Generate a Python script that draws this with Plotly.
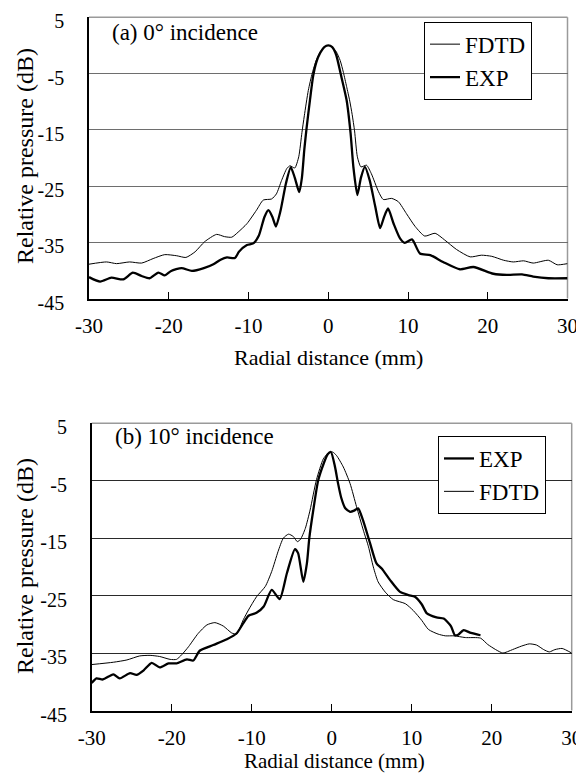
import plotly.graph_objects as go

# ---------------- data ----------------
# (a) 0 deg incidence
fdtd_a_x = [-30, -27.8, -26.55, -24.9, -23.4, -21.96, -20.5, -19.0, -17.85, -16.7, -15.5, -14.0, -13.0, -12.1,
            -11.3, -10.2, -9.0, -8.15, -7.1, -6.5, -5.85, -5.2, -4.8, -4.2, -3.7, -3.3, -3.0, -2.5, -2.0, -1.5,
            -1.0, -0.5, 0, 0.5, 1.0, 1.5, 1.9, 2.3, 2.7, 3.0, 3.3, 3.65, 4.1, 4.8, 5.4, 6.3, 6.9, 7.95, 8.8, 9.8,
            10.9, 12.1, 13.4, 14.6, 16.1, 17.8, 19.2, 20.5, 22.0, 23.2, 24.5, 25.7, 27.6, 28.7, 30]
fdtd_a_y = [-38.9, -38.5, -38.8, -38.5, -38.7, -37.9, -37.2, -37.4, -37.7, -36.7, -34.9, -33.6, -34.0, -34.1,
            -33.2, -31.7, -29.3, -27.5, -27.3, -26.4, -24.0, -21.9, -21.4, -21.8, -19.8, -15.5, -12.5, -8.0, -4.9, -2.6,
            -1.1, -0.3, 0, -0.3, -1.1, -2.7, -4.8, -7.3, -9.9, -12.3, -15.2, -19.8, -21.6, -21.3, -22.8, -26.0, -27.4, -27.2, -27.8, -29.9,
            -32.2, -33.9, -33.4, -34.6, -36.3, -37.6, -37.3, -37.5, -38.2, -38.5, -38.3, -38.7, -38.2, -39.0, -38.8]

exp_a_x = [-30, -28.6, -27.2, -25.7, -24.5, -23.4, -22.4, -21.3, -20.5, -19.7, -18.4, -17.1, -15.6, -14.4, -13.5,
           -12.7, -11.7, -11.2, -10.2, -9.4, -8.7, -8.0, -7.5, -7.0, -6.56, -6.0, -5.3, -4.7, -4.2, -3.64, -3.3,
           -3.0, -2.7, -2.3, -1.9, -1.5, -1.0, -0.5, 0, 0.5, 1.0, 1.55, 2.3, 2.8, 3.15, 3.65, 4.1, 4.6, 5.2, 5.9,
           6.5, 7.0, 7.5, 8.2, 9.0, 9.6, 10.5, 11.5, 12.8, 14.4, 16.5, 18.2, 20.7, 22.4, 24.3, 25.7, 27.6, 30]
exp_a_y = [-41.2, -42.0, -41.3, -41.6, -40.4, -41.0, -41.4, -40.4, -40.9, -40.1, -39.6, -40.1, -39.6, -38.9, -38.1,
           -37.7, -37.8, -36.7, -35.5, -35.2, -33.8, -30.5, -29.3, -30.5, -32.2, -29.5, -24.5, -21.7, -23.5, -26.1, -23.5,
           -18.5, -14.5, -9.8, -5.5, -3.0, -1.3, -0.3, 0, -0.3, -1.7, -5.0, -9.7, -15.6, -21.6, -26.6, -23.5, -21.6, -24.0, -28.7,
           -32.5, -30.5, -29.0, -31.7, -34.3, -35.1, -34.5, -37.0, -37.3, -38.5, -39.8, -39.4, -40.6, -40.8, -40.7, -41.1, -41.4, -41.4]

# (b) 10 deg incidence
fdtd_b_x = [-30, -27.3, -25.6, -24.0, -22.7, -21.5, -20.2, -19.4, -18.75, -17.9, -16.7, -15.6, -14.6, -13.55, -12.5,
            -11.9, -11.05, -10.4, -9.4, -8.3, -7.5, -6.7, -6.05, -5.4, -4.8, -4.3, -3.9, -3.3, -2.7, -1.9, -1.05, -0.5,
            0.1, 0.6, 1.45, 2.3, 3.1, 3.95, 4.6, 5.2, 5.8, 6.7, 7.7, 9.2, 10.2, 11.25, 12.1, 13.3, 14.2, 15.3, 16.7,
            18.6, 19.5, 20.5, 21.4, 22.6, 23.7, 24.7, 25.6, 26.5, 27.2, 27.9, 28.8, 30]
fdtd_b_y = [-37.0, -36.6, -36.2, -35.5, -35.4, -35.6, -36.1, -36.1, -35.3, -33.9, -31.6, -30.1, -29.7, -30.3, -31.5,
            -31.7, -29.2, -27.5, -25.2, -23.4, -20.8, -17.3, -15.0, -14.3, -14.7, -15.6, -15.2, -13.3, -10.1, -4.8, -1.2, -0.3,
            0, -0.6, -2.6, -5.5, -9.5, -13.6, -16.5, -20.0, -22.6, -24.4, -25.7, -26.4, -27.6, -29.3, -30.9, -31.7, -32.0, -32.0, -32.3,
            -32.4, -33.5, -34.4, -35.0, -34.4, -33.8, -33.4, -33.6, -34.4, -34.8, -34.4, -34.2, -35.0]

exp_b_x = [-30, -29.4, -28.6, -27.3, -26.5, -25.2, -24.4, -23.5, -22.5, -21.5, -20.4, -19.4, -18.1, -17.3, -16.5,
           -14.8, -13.1, -11.9, -11.05, -10.4, -9.4, -8.5, -7.5, -6.5, -5.6, -4.6, -4.2, -3.55, -3.1, -2.8, -2.3,
           -1.7, -1.0, -0.5, -0.1, 0.4, 0.8, 1.2, 1.7, 2.3, 2.8, 3.3, 3.9, 4.8, 5.6, 6.25, 7.3, 8.5, 9.6, 10.4,
           11.25, 11.9, 13.1, 14.0, 14.9, 15.4, 15.8, 16.5, 17.4, 18.6]
exp_b_y = [-40.2, -39.4, -39.6, -38.7, -39.4, -38.5, -38.8, -38.0, -36.7, -37.5, -36.8, -36.8, -36.1, -36.3, -34.6,
           -33.6, -32.6, -31.6, -29.8, -28.5, -28.0, -26.9, -24.0, -25.6, -21.1, -16.9, -17.6, -22.6, -19.4, -15.0, -10.1,
           -5.0, -2.0, -0.4, 0, -2.5, -5.5, -8.0, -9.8, -10.4, -10.2, -9.8, -11.8, -15.9, -19.4, -20.3, -22.3, -24.3, -24.9, -25.2,
           -26.5, -28.1, -28.8, -29.0, -30.3, -31.9, -31.8, -31.0, -31.5, -31.9]

x_ticks = [-30, -20, -10, 0, 10, 20, 30]
y_ticks = [5, -5, -15, -25, -35, -45]

# ---------------- layout (pixel geometry) ----------------
# The page body has an 8 px margin, so the figure is sized to fill the rest of
# the 584x774 window and all positions below are given in window pixels.
OFF = 8
WIN_W, WIN_H = 584, 774
W, H = WIN_W - OFF, WIN_H - OFF
FONT = "Liberation Serif, Times New Roman, serif"

def px_x(p):
    return (p - OFF) / W

def px_y(p):
    return 1 - (p - OFF) / H

top = dict(l=89, r=567.5, t=17.3, b=298.5)
bot = dict(l=91.7, r=571.7, t=423.3, b=710.5)

fig = go.Figure()

thin = dict(color="black", width=1, shape="spline", smoothing=0.6)
thick = dict(color="black", width=2.3, shape="spline", smoothing=0.6)

fig.add_trace(go.Scatter(x=fdtd_a_x, y=fdtd_a_y, mode="lines", name="FDTD", line=thin,
                         xaxis="x", yaxis="y", legend="legend"))
fig.add_trace(go.Scatter(x=exp_a_x, y=exp_a_y, mode="lines", name="EXP", line=thick,
                         xaxis="x", yaxis="y", legend="legend"))
fig.add_trace(go.Scatter(x=exp_b_x, y=exp_b_y, mode="lines", name="EXP", line=thick,
                         xaxis="x2", yaxis="y2", legend="legend2"))
fig.add_trace(go.Scatter(x=fdtd_b_x, y=fdtd_b_y, mode="lines", name="FDTD", line=thin,
                         xaxis="x2", yaxis="y2", legend="legend2"))

def xaxis(dom, anchor):
    return dict(domain=dom, anchor=anchor, range=[-30, 30], tickvals=x_ticks,
                ticktext=[str(v) for v in x_ticks], ticks="inside", ticklen=7, tickwidth=1,
                tickcolor="black", showline=True, linecolor="black", linewidth=1.5,
                showgrid=False, zeroline=False, ticklabelstandoff=8, ticklabeloverflow="allow",
                tickfont=dict(family=FONT, size=21, color="black"))

def yaxis(dom, anchor, gridcolor):
    return dict(domain=dom, anchor=anchor, range=[-45, 5], tickvals=y_ticks,
                ticktext=[str(v) for v in y_ticks], ticks="", showline=True, linecolor="black",
                linewidth=1.5, showgrid=True, gridcolor=gridcolor, gridwidth=1.2, zeroline=False,
                ticklabelstandoff=19, ticklabelshift=4, ticklabeloverflow="allow",
                tickfont=dict(family=FONT, size=20, color="black"))

fig.update_layout(
    width=W, height=H, margin=dict(l=0, r=0, t=0, b=0, autoexpand=False),
    paper_bgcolor="white", plot_bgcolor="white",
    xaxis=xaxis([px_x(top["l"]), px_x(top["r"])], "y"),
    yaxis=yaxis([px_y(top["b"]), px_y(top["t"])], "x", "#6e6e6e"),
    xaxis2=xaxis([px_x(bot["l"]), px_x(bot["r"])], "y2"),
    yaxis2=yaxis([px_y(bot["b"]), px_y(bot["t"])], "x2", "#2a2a2a"),
    legend=dict(x=px_x(424), y=px_y(21.7), xanchor="left", yanchor="top",
                bordercolor="black", borderwidth=1, bgcolor="white",
                font=dict(family=FONT, size=23, color="black"), tracegroupgap=0),
    legend2=dict(x=px_x(438), y=px_y(436), xanchor="left", yanchor="top",
                 bordercolor="black", borderwidth=1, bgcolor="white",
                 font=dict(family=FONT, size=23, color="black"), tracegroupgap=0),
    showlegend=True,
)

# gray top/right frame
for xr, yr in (("x domain", "y domain"), ("x2 domain", "y2 domain")):
    fig.add_shape(type="line", xref=xr, yref=yr, x0=0, x1=1, y0=1, y1=1,
                  line=dict(color="#9a9a9a", width=1.5), layer="below")
    fig.add_shape(type="line", xref=xr, yref=yr, x0=1, x1=1, y0=0, y1=1,
                  line=dict(color="#9a9a9a", width=1.5), layer="below")

ann_font = dict(family=FONT, size=23, color="black")
xtitle_font = dict(family=FONT, size=22, color="black")
ytitle_font = dict(family=FONT, size=24, color="black")
fig.add_annotation(text="(a) 0° incidence", xref="paper", yref="paper", x=px_x(110), y=px_y(32.3),
                   xanchor="left", yanchor="middle", showarrow=False, font=ann_font)
fig.add_annotation(text="(b) 10° incidence", xref="paper", yref="paper", x=px_x(113), y=px_y(436.7),
                   xanchor="left", yanchor="middle", showarrow=False, font=ann_font)
fig.add_annotation(text="Radial distance (mm)", xref="paper", yref="paper", x=px_x(328), y=px_y(358),
                   xanchor="center", yanchor="middle", showarrow=False, font=xtitle_font)
fig.add_annotation(text="Radial distance (mm)", xref="paper", yref="paper", x=px_x(334), y=0,
                   xanchor="center", yanchor="bottom", showarrow=False,
                   font=dict(family=FONT, size=21, color="black"), borderpad=0)
fig.add_annotation(text="Relative pressure (dB)", xref="paper", yref="paper", x=px_x(25), y=px_y(156),
                   xanchor="center", yanchor="middle", textangle=-90, showarrow=False, font=ytitle_font)
fig.add_annotation(text="Relative pressure (dB)", xref="paper", yref="paper", x=px_x(25), y=px_y(566),
                   xanchor="center", yanchor="middle", textangle=-90, showarrow=False, font=ytitle_font)

fig.write_html("out.html")
